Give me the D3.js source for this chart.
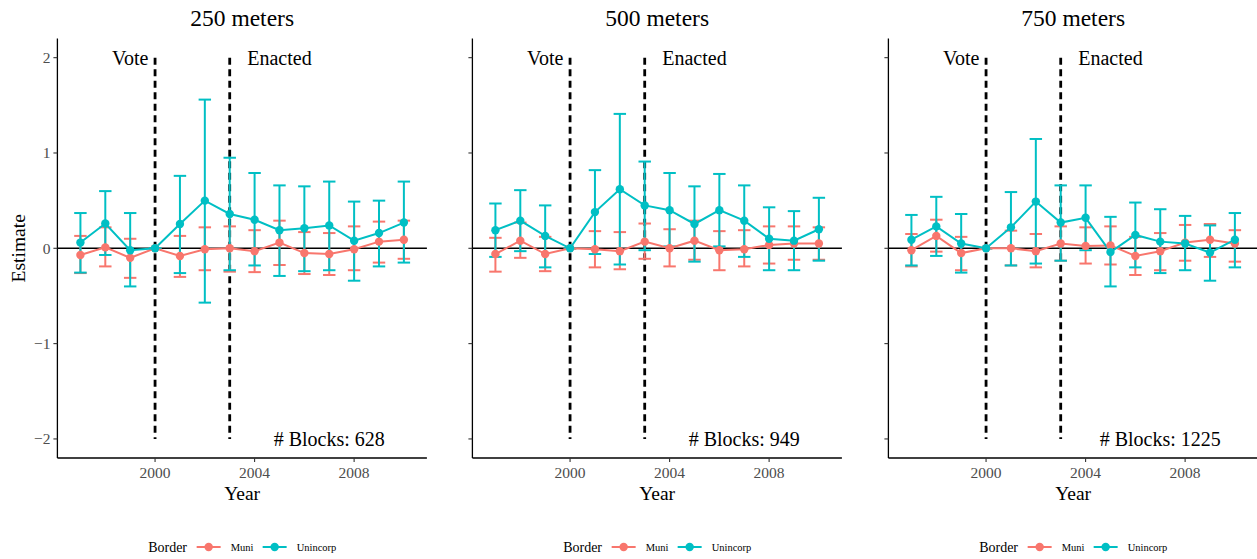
<!DOCTYPE html>
<html>
<head>
<meta charset="utf-8">
<script src="https://cdn.jsdelivr.net/npm/d3@7"></script>
<style>
  body { margin: 0; background: #fff; }
  svg { display: block; font-family: "Liberation Serif", "DejaVu Serif", serif; }
</style>
</head>
<body>
<svg id="chart" width="1257" height="559"></svg>
<script>
// ------------------------------------------------------------
// data
// ------------------------------------------------------------
const years = [1997, 1998, 1999, 2000, 2001, 2002, 2003, 2004, 2005, 2006, 2007, 2008, 2009, 2010];
const panelTitles = ["250 meters", "500 meters", "750 meters"];
const blockCounts = ["628", "949", "1225"];
const borderGroups = ["Muni", "Unincorp"];
const groupColors = ["#F8766D", "#00BFC4"];
const eventYears = [2000, 2003];
const eventLabels = ["Vote", "Enacted"];
const eventLabelYears = [1999, 2005];
const yTicks = [-2, -1, 0, 1, 2];
const xTicks = [2000, 2004, 2008];

// 250 meters
const muni250Est = [-0.07, 0.01, -0.10, 0, -0.08, -0.01, 0.00, -0.03, 0.06, -0.05, -0.06, -0.01, 0.07, 0.09];
const muni250Lo  = [-0.26, -0.19, -0.31, 0, -0.30, -0.23, -0.245, -0.25, -0.175, -0.27, -0.28, -0.23, -0.15, -0.11];
const muni250Hi  = [0.13, 0.22, 0.10, 0, 0.13, 0.22, 0.23, 0.19, 0.29, 0.17, 0.16, 0.23, 0.28, 0.29];
const unin250Est = [0.06, 0.26, -0.02, 0, 0.255, 0.50, 0.36, 0.30, 0.19, 0.21, 0.24, 0.08, 0.16, 0.27];
const unin250Lo  = [-0.255, -0.07, -0.40, 0, -0.26, -0.57, -0.23, -0.18, -0.29, -0.24, -0.23, -0.34, -0.19, -0.15];
const unin250Hi  = [0.37, 0.60, 0.37, 0, 0.76, 1.56, 0.95, 0.79, 0.66, 0.65, 0.70, 0.49, 0.50, 0.70];

// 500 meters
const muni500Est = [-0.06, 0.08, -0.06, 0, -0.01, -0.03, 0.07, 0.00, 0.08, -0.02, -0.01, 0.035, 0.05, 0.05];
const muni500Lo  = [-0.245, -0.10, -0.24, 0, -0.20, -0.22, -0.11, -0.19, -0.12, -0.23, -0.19, -0.16, -0.12, -0.12];
const muni500Hi  = [0.11, 0.27, 0.12, 0, 0.18, 0.17, 0.26, 0.20, 0.29, 0.18, 0.19, 0.23, 0.23, 0.22];
const unin500Est = [0.19, 0.29, 0.13, 0, 0.38, 0.62, 0.45, 0.40, 0.255, 0.40, 0.29, 0.10, 0.08, 0.20];
const unin500Lo  = [-0.09, -0.03, -0.20, 0, -0.06, -0.17, -0.02, 0.02, -0.14, 0.02, -0.09, -0.23, -0.23, -0.13];
const unin500Hi  = [0.47, 0.61, 0.45, 0, 0.82, 1.41, 0.91, 0.79, 0.65, 0.78, 0.66, 0.43, 0.39, 0.53];

// 750 meters
const muni750Est = [-0.02, 0.13, -0.05, 0, 0.00, -0.03, 0.05, 0.025, 0.03, -0.08, -0.03, 0.06, 0.09, 0.05];
const muni750Lo  = [-0.19, -0.035, -0.23, 0, -0.18, -0.20, -0.13, -0.16, -0.17, -0.28, -0.23, -0.13, -0.09, -0.14];
const muni750Hi  = [0.15, 0.30, 0.12, 0, 0.185, 0.15, 0.23, 0.22, 0.23, 0.12, 0.16, 0.245, 0.255, 0.19];
const unin750Est = [0.09, 0.23, 0.05, 0, 0.22, 0.49, 0.27, 0.32, -0.04, 0.14, 0.07, 0.05, -0.045, 0.09];
const unin750Lo  = [-0.18, -0.08, -0.255, 0, -0.18, -0.16, -0.13, -0.02, -0.40, -0.20, -0.26, -0.23, -0.34, -0.20];
const unin750Hi  = [0.35, 0.54, 0.36, 0, 0.59, 1.147, 0.66, 0.66, 0.33, 0.48, 0.41, 0.34, 0.24, 0.37];

// ------------------------------------------------------------
// build panel tables
// ------------------------------------------------------------
function rows(est, lo, hi) {
  return years.map((y, i) => ({ year: y, est: est[i], lo: lo[i], hi: hi[i] }));
}
const panels = [
  { title: panelTitles[0], blocks: blockCounts[0],
    series: [rows(muni250Est, muni250Lo, muni250Hi), rows(unin250Est, unin250Lo, unin250Hi)] },
  { title: panelTitles[1], blocks: blockCounts[1],
    series: [rows(muni500Est, muni500Lo, muni500Hi), rows(unin500Est, unin500Lo, unin500Hi)] },
  { title: panelTitles[2], blocks: blockCounts[2],
    series: [rows(muni750Est, muni750Lo, muni750Hi), rows(unin750Est, unin750Lo, unin750Hi)] }
];

// ------------------------------------------------------------
// layout
// ------------------------------------------------------------
const svg = d3.select("#chart");
const panelLefts = [57.4, 472.4, 888.4];
const panelWidth = 369.5;
const panelTop = 38.6;
const panelBottom = 458;
const capHalf = 0.25;   // errorbar width 0.5 year

const y = d3.scaleLinear().domain([-2.2, 2.2]).range([panelBottom, panelTop]);

panels.forEach((p, pi) => {
  const left = panelLefts[pi];
  const x = d3.scaleLinear()
    .domain([1996.75 - 0.675, 2010.25 + 0.675])
    .range([left, left + panelWidth]);
  const cx = left + panelWidth / 2;
  const g = svg.append("g");

  // title
  g.append("text")
    .attr("x", cx).attr("y", 18)
    .attr("dy", "0.35em")
    .attr("text-anchor", "middle")
    .attr("font-size", 23.5)
    .attr("fill", "#000")
    .text(p.title);

  // zero line
  g.append("line")
    .attr("x1", left).attr("x2", left + panelWidth)
    .attr("y1", y(0)).attr("y2", y(0))
    .attr("stroke", "#000").attr("stroke-width", 1.4);

  // event lines
  eventYears.forEach((ey) => {
    g.append("line")
      .attr("x1", x(ey)).attr("x2", x(ey))
      .attr("y1", y(2)).attr("y2", y(-2))
      .attr("stroke", "#000").attr("stroke-width", 2.8)
      .attr("stroke-dasharray", "7,4.5");
  });
  eventLabels.forEach((lab, i) => {
    g.append("text")
      .attr("x", x(eventLabelYears[i])).attr("y", y(2))
      .attr("dy", "0.35em")
      .attr("text-anchor", "middle")
      .attr("font-size", 20)
      .text(lab);
  });

  // blocks note
  g.append("text")
    .attr("x", x(2007)).attr("y", y(-2))
    .attr("dy", "0.35em")
    .attr("text-anchor", "middle")
    .attr("font-size", 20)
    .text("# Blocks: " + p.blocks);

  // error bars
  p.series.forEach((s, si) => {
    const col = groupColors[si];
    const eb = g.append("g").attr("stroke", col).attr("stroke-width", 2).attr("fill", "none");
    s.forEach((d) => {
      eb.append("line").attr("x1", x(d.year)).attr("x2", x(d.year)).attr("y1", y(d.lo)).attr("y2", y(d.hi));
      eb.append("line").attr("x1", x(d.year - capHalf)).attr("x2", x(d.year + capHalf)).attr("y1", y(d.lo)).attr("y2", y(d.lo));
      eb.append("line").attr("x1", x(d.year - capHalf)).attr("x2", x(d.year + capHalf)).attr("y1", y(d.hi)).attr("y2", y(d.hi));
    });
  });

  // lines
  const line = d3.line().x((d) => x(d.year)).y((d) => y(d.est));
  p.series.forEach((s, si) => {
    g.append("path").datum(s)
      .attr("d", line)
      .attr("fill", "none")
      .attr("stroke", groupColors[si])
      .attr("stroke-width", 2);
  });

  // points
  p.series.forEach((s, si) => {
    g.append("g").selectAll("circle").data(s).enter()
      .append("circle")
      .attr("cx", (d) => x(d.year))
      .attr("cy", (d) => y(d.est))
      .attr("r", 4.2)
      .attr("fill", groupColors[si]);
  });

  // axes
  const axisCol = "#000";
  g.append("line")
    .attr("x1", left).attr("x2", left)
    .attr("y1", panelTop).attr("y2", panelBottom)
    .attr("stroke", axisCol).attr("stroke-width", 1.3);
  g.append("line")
    .attr("x1", left).attr("x2", left + panelWidth)
    .attr("y1", panelBottom).attr("y2", panelBottom)
    .attr("stroke", axisCol).attr("stroke-width", 1.3);

  yTicks.forEach((t) => {
    g.append("line")
      .attr("x1", left - 4).attr("x2", left)
      .attr("y1", y(t)).attr("y2", y(t))
      .attr("stroke", "#333").attr("stroke-width", 1.1);
    if (pi === 0) {
      g.append("text")
        .attr("x", left - 7).attr("y", y(t))
        .attr("dy", "0.35em")
        .attr("text-anchor", "end")
        .attr("font-size", 15.5)
        .attr("fill", "#4d4d4d")
        .text(t < 0 ? "\u2212" + Math.abs(t) : String(t));
    }
  });
  xTicks.forEach((t) => {
    g.append("line")
      .attr("x1", x(t)).attr("x2", x(t))
      .attr("y1", panelBottom).attr("y2", panelBottom + 4)
      .attr("stroke", "#333").attr("stroke-width", 1.1);
    g.append("text")
      .attr("x", x(t)).attr("y", panelBottom + 9)
      .attr("dy", "0.71em")
      .attr("text-anchor", "middle")
      .attr("font-size", 15.5)
      .attr("fill", "#4d4d4d")
      .text(t);
  });

  g.append("text")
    .attr("x", cx).attr("y", 493)
    .attr("dy", "0.35em")
    .attr("text-anchor", "middle")
    .attr("font-size", 19.5)
    .text("Year");

  if (pi === 0) {
    g.append("text")
      .attr("transform", `translate(18,${y(0)}) rotate(-90)`)
      .attr("dy", "0.35em")
      .attr("text-anchor", "middle")
      .attr("font-size", 19.5)
      .text("Estimate");
  }

  // legend
  const lg = g.append("g").attr("transform", `translate(${cx - 94},547)`);
  lg.append("text").attr("x", 0).attr("y", 0).attr("dy", "0.35em")
    .attr("font-size", 14).text("Border");
  const keyX = [48.5, 114.5];
  const labX = [82.5, 148.5];
  borderGroups.forEach((b, i) => {
    lg.append("line")
      .attr("x1", keyX[i]).attr("x2", keyX[i] + 24)
      .attr("y1", 0).attr("y2", 0)
      .attr("stroke", groupColors[i]).attr("stroke-width", 2);
    lg.append("circle")
      .attr("cx", keyX[i] + 12).attr("cy", 0).attr("r", 4.2)
      .attr("fill", groupColors[i]);
    lg.append("text")
      .attr("x", labX[i]).attr("y", 0).attr("dy", "0.35em")
      .attr("font-size", 10.5).text(b);
  });
});
</script>
</body>
</html>
